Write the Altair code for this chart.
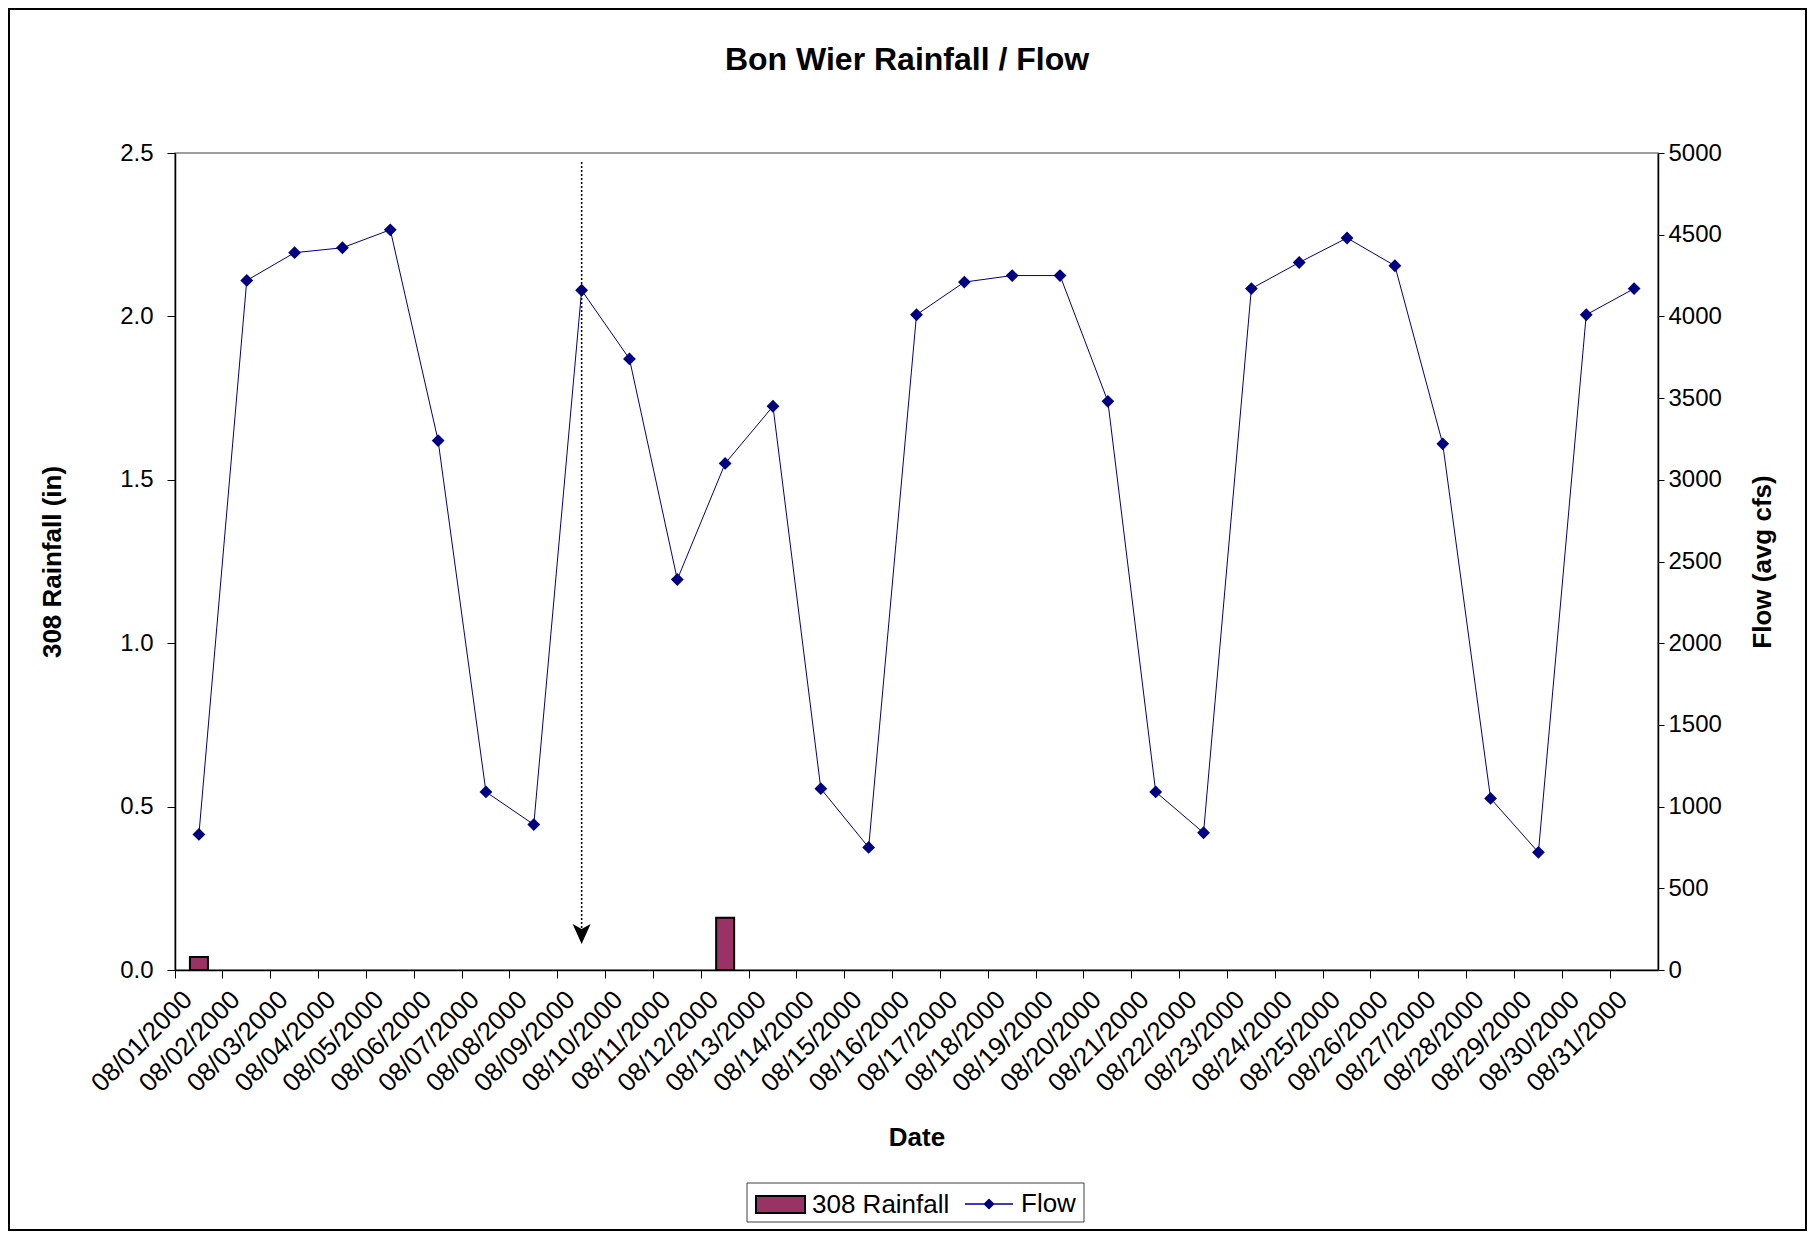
import altair as alt
import pandas as pd

dates = [f"08/{d:02d}/2000" for d in range(1, 32)]
rainfall = [0.04, 0, 0, 0, 0, 0, 0, 0, 0, 0, 0, 0.16, 0, 0, 0, 0,
            0, 0, 0, 0, 0, 0, 0, 0, 0, 0, 0, 0, 0, 0, 0]
flow = [830, 4220, 4390, 4420, 4530, 3240, 1090, 890, 4160, 3740, 2390,
        3100, 3450, 1110, 750, 4010, 4210, 4250, 4250, 3480, 1090, 840,
        4170, 4330, 4480, 4310, 3220, 1050, 720, 4010, 4170]
arrow_date = ["08/09/2000"]
title_text = "Bon Wier Rainfall / Flow"

W, H = 1483, 817
FONT = "Liberation Sans"

df = pd.DataFrame({"date": dates, "rain": rainfall, "flow": flow,
                   "s1": "308 Rainfall", "s2": "Flow"})
one = pd.DataFrame({"a": [0]})
arrow_df = pd.DataFrame({"date": arrow_date})

xscale = alt.Scale(domain=dates, paddingInner=0, paddingOuter=0)

x_labels = alt.X("date:O", scale=xscale, sort=None,
                 axis=alt.Axis(orient="bottom", title="Date", ticks=False, tickSize=0,
                               labelAngle=315, labelAlign="right", labelBaseline="top",
                               labelOffset=-20, labelPadding=16, labelOverlap=False,
                               labelFontSize=26, labelFont=FONT, labelColor="black",
                               domainColor="black", domainWidth=1.5,
                               titleFontSize=26, titleFont=FONT, titleFontWeight="bold",
                               titleColor="black", titleY=167, titleBaseline="middle"))
x_ticks = alt.X("date:O", scale=xscale, sort=None,
                axis=alt.Axis(orient="bottom", title=None, labels=False, domain=False,
                              ticks=True, tickSize=8, bandPosition=0,
                              tickColor="black", tickWidth=1))

bars = alt.Chart(df).transform_filter("datum.rain > 0").mark_bar(
    size=18, stroke="black", strokeWidth=2).encode(
    x=x_labels,
    y=alt.Y("rain:Q", scale=alt.Scale(domain=[0, 2.5], nice=False),
            axis=alt.Axis(orient="left", values=[0, 0.5, 1, 1.5, 2, 2.5], format=".1f",
                          grid=False, tickSize=8, labelPadding=14, tickColor="black",
                          domainColor="black", domainWidth=1.5,
                          labelFontSize=24, labelFont=FONT, labelColor="black",
                          title="308 Rainfall (in)", titleFontSize=26, titleFont=FONT,
                          titleFontWeight="bold", titleColor="black",
                          titleAngle=270, titleX=-123, titleY=H / 2,
                          titleAlign="center", titleBaseline="middle")),
    fill=alt.Fill("s1:N", scale=alt.Scale(domain=["308 Rainfall"], range=["#993366"]),
                  legend=alt.Legend(title=None, orient="none", legendX=580, legendY=1026,
                                    symbolType="M-1,-0.35L1,-0.35L1,0.35L-1,0.35Z",
                                    symbolSize=2401, symbolStrokeColor="black",
                                    symbolStrokeWidth=2, labelOffset=6,
                                    labelFontSize=26, labelFont=FONT, labelColor="black")),
)

line = alt.Chart(df).mark_line(
    strokeWidth=1,
    point=alt.OverlayMarkDef(shape="diamond", size=100, filled=True, fill="#000080",
                             stroke="#000080"),
).encode(
    x=x_ticks,
    y=alt.Y("flow:Q", scale=alt.Scale(domain=[0, 5000], nice=False),
            axis=alt.Axis(orient="right", values=list(range(0, 5001, 500)), format="d",
                          grid=False, tickSize=6, labelPadding=4, tickColor="black",
                          domainColor="black", domainWidth=1.5,
                          labelFontSize=24, labelFont=FONT, labelColor="black",
                          title="Flow (avg cfs)", titleFontSize=26, titleFont=FONT,
                          titleFontWeight="bold", titleColor="black",
                          titleAngle=270, titleX=104, titleY=H / 2,
                          titleAlign="center", titleBaseline="middle")),
    stroke=alt.Stroke("s2:N", scale=alt.Scale(domain=["Flow"], range=["#000080"]),
                      legend=alt.Legend(title=None, orient="none", legendX=789, legendY=1026,
                                        symbolType="M-1,0L1,0M-0.19,0L0,-0.19L0.19,0L0,0.19Z",
                                        symbolSize=2304, symbolFillColor="#000080",
                                        symbolStrokeWidth=1.5, labelOffset=7,
                                        labelFontSize=26, labelFont=FONT, labelColor="black")),
)

arrow_line = alt.Chart(arrow_df).mark_rule(color="black", strokeWidth=1.5,
                                           strokeDash=[2, 2]).encode(
    x=alt.X("date:O", scale=xscale, sort=None, axis=None),
    y=alt.value(9), y2=alt.value(778))
arrow_head = alt.Chart(arrow_df).mark_point(
    shape="M0,1L-0.9,-1L0,-0.5L0.9,-1Z", size=400, filled=True, color="black",
    opacity=1).encode(
    x=alt.X("date:O", scale=xscale, sort=None, axis=None),
    y=alt.value(781))

border = alt.Chart(one).mark_rect(filled=False, stroke="black", strokeWidth=2).encode(
    x=alt.value(-166), x2=alt.value(1631), y=alt.value(-144), y2=alt.value(1077))
legend_box = alt.Chart(one).mark_rect(filled=False, stroke="#404040", strokeWidth=1).encode(
    x=alt.value(572), x2=alt.value(909), y=alt.value(1030), y2=alt.value(1069))
title = alt.Chart(one).mark_text(text=title_text, fontSize=32, fontWeight="bold",
                                 font=FONT, color="black", align="center",
                                 baseline="alphabetic").encode(
    x=alt.value(732), y=alt.value(-83))

chart = alt.layer(border, bars, line, arrow_line, arrow_head, title, legend_box).resolve_scale(
    y="independent").resolve_axis(x="independent", y="independent").properties(
    width=W, height=H, padding=0, background="white"
).configure_view(stroke="#808080", strokeWidth=1.5)

chart.save("out.html", embed_options={"renderer": "svg", "actions": False})
